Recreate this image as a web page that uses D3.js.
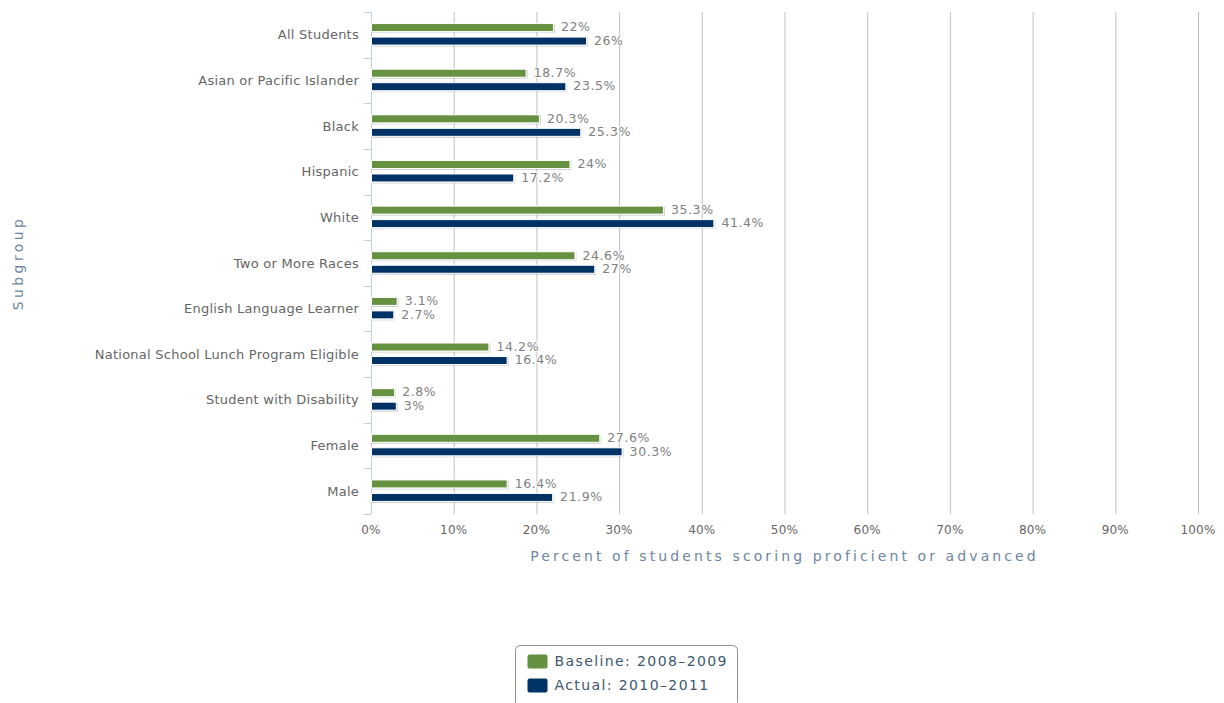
<!DOCTYPE html>
<html>
<head>
<meta charset="utf-8">
<script src="https://cdn.jsdelivr.net/npm/d3@7"></script>
<style>
  html, body { margin: 0; padding: 0; background: #fff; }
  svg { display: block; font-family: "DejaVu Sans", sans-serif; }
</style>
</head>
<body>
<svg id="chart" width="1224" height="703"></svg>
<script>
// Subgroups shown on the vertical axis
const categories = [
  "All Students",
  "Asian or Pacific Islander",
  "Black",
  "Hispanic",
  "White",
  "Two or More Races",
  "English Language Learner",
  "National School Lunch Program Eligible",
  "Student with Disability",
  "Female",
  "Male"
];

// Percent proficient or advanced, per subgroup
const baseline = [22, 18.7, 20.3, 24, 35.3, 24.6, 3.1, 14.2, 2.8, 27.6, 16.4];
const actual   = [26, 23.5, 25.3, 17.2, 41.4, 27, 2.7, 16.4, 3, 30.3, 21.9];

const seriesNames = ["Baseline: 2008\u20132009", "Actual: 2010\u20132011"];
const seriesColors = ["#669141", "#013366"];
const xTicks = [0, 10, 20, 30, 40, 50, 60, 70, 80, 90, 100];

const svg = d3.select("#chart");
const plot = { left: 371, right: 1198, top: 12, bottom: 514 };

const x = d3.scaleLinear().domain([0, 100]).range([plot.left, plot.right]);
const y = d3.scaleBand().domain(categories).range([plot.top, plot.bottom]);
// two series slots inside each band, centred roughly 7px above and below the middle
const sub = d3.scaleBand().domain([0, 1]).range([-12, 11]).paddingInner(0.296).paddingOuter(0);

// Drop shadow for bars
const defs = svg.append("defs");
const f = defs.append("filter").attr("id", "shadow").attr("x", "-5%").attr("y", "-50%").attr("width", "110%").attr("height", "200%");
f.append("feDropShadow").attr("dx", 1).attr("dy", 1).attr("stdDeviation", 0.6).attr("flood-color", "#000").attr("flood-opacity", 0.18);

// Vertical gridlines
svg.append("g").selectAll("line").data(xTicks.filter(d => d > 0)).join("line")
  .attr("x1", d => x(d) + 0.5).attr("x2", d => x(d) + 0.5)
  .attr("y1", plot.top).attr("y2", plot.bottom)
  .attr("stroke", "#C0C0C0").attr("stroke-width", 1);

// Category axis line and tick marks at band edges
const yAxisG = svg.append("g");
yAxisG.append("line")
  .attr("x1", plot.left + 0.5).attr("x2", plot.left + 0.5)
  .attr("y1", plot.top).attr("y2", plot.bottom)
  .attr("stroke", "#C0D0E0");
const edges = categories.map(c => y(c)).concat([plot.bottom]);
yAxisG.selectAll("line.tick").data(edges).join("line").attr("class", "tick")
  .attr("x1", plot.left - 7).attr("x2", plot.left)
  .attr("y1", d => Math.round(d) + 0.5).attr("y2", d => Math.round(d) + 0.5)
  .attr("stroke", "#C0D0E0");

// Category labels
yAxisG.selectAll("text").data(categories).join("text")
  .attr("x", plot.left - 12)
  .attr("y", d => y(d) + y.bandwidth() / 2)
  .attr("dy", "0.35em")
  .attr("text-anchor", "end")
  .attr("fill", "#666")
  .attr("font-size", 13)
  .attr("letter-spacing", 0.25)
  .text(d => d);

// Percent tick labels
svg.append("g").selectAll("text").data(xTicks).join("text")
  .attr("x", d => x(d))
  .attr("y", plot.bottom + 20)
  .attr("text-anchor", "middle")
  .attr("fill", "#666")
  .attr("font-size", 12)
  .attr("letter-spacing", 0.2)
  .text(d => d + "%");

// Bars
const rows = categories.map((c, i) => ({ cat: c, vals: [baseline[i], actual[i]] }));
const barH = 8;
const groups = svg.append("g").selectAll("g").data(rows).join("g")
  .attr("transform", d => `translate(0,${y(d.cat) + y.bandwidth() / 2})`);

groups.selectAll("rect").data(d => d.vals.map((v, s) => ({ v, s }))).join("rect")
  .attr("x", x(0) + 0.5)
  .attr("y", d => sub(d.s) + sub.bandwidth() / 2 - barH / 2)
  .attr("width", d => x(d.v) - x(0))
  .attr("height", barH)
  .attr("fill", d => seriesColors[d.s])
  .attr("stroke", "#fff")
  .attr("stroke-width", 1)
  .attr("filter", "url(#shadow)");

// Value labels at bar ends
groups.selectAll("text").data(d => d.vals.map((v, s) => ({ v, s }))).join("text")
  .attr("x", d => x(d.v) + 8)
  .attr("y", d => sub(d.s) + sub.bandwidth() / 2)
  .attr("dy", "0.3em")
  .attr("fill", "#808080")
  .attr("font-size", 12.5)
  .attr("letter-spacing", 0.6)
  .attr("stroke", "#fff").attr("stroke-width", 2).attr("paint-order", "stroke")
  .text(d => d.v + "%");

// Axis titles
svg.append("text")
  .attr("x", (plot.left + plot.right) / 2)
  .attr("y", 561)
  .attr("text-anchor", "middle")
  .attr("fill", "#6D869F")
  .attr("font-size", 14)
  .attr("letter-spacing", 3.1)
  .text("Percent of students scoring proficient or advanced");

svg.append("text")
  .attr("transform", `translate(23,${(plot.top + plot.bottom) / 2}) rotate(-90)`)
  .attr("text-anchor", "middle")
  .attr("fill", "#6D869F")
  .attr("font-size", 14)
  .attr("letter-spacing", 3.4)
  .text("Subgroup");

// Legend
const legend = svg.append("g").attr("transform", "translate(515.5,645.5)");
legend.append("rect")
  .attr("width", 222).attr("height", 62)
  .attr("rx", 5).attr("ry", 5)
  .attr("fill", "#fff").attr("stroke", "#909090");
const items = legend.selectAll("g").data(seriesNames).join("g")
  .attr("transform", (d, i) => `translate(12,${9 + i * 24})`);
items.append("rect")
  .attr("width", 20).attr("height", 14).attr("rx", 2)
  .attr("fill", (d, i) => seriesColors[i]);
items.append("text")
  .attr("x", 27).attr("y", 7).attr("dy", "0.35em")
  .attr("fill", "#3E576F")
  .attr("font-size", 14)
  .attr("letter-spacing", 1.4)
  .text(d => d);
</script>
</body>
</html>
